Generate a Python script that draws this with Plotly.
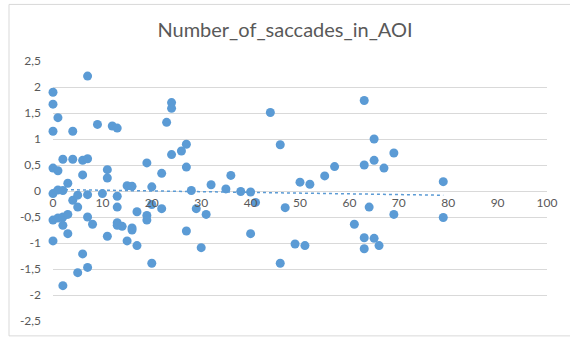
import numpy as np
import plotly.graph_objects as go

# Residual-style scatter: x = number of saccades in AOI, y = standardized value
x_vals = [0, 0, 0, 1, 0, 1, 0, 1, 2, 0, 1, 2, 2, 3, 3, 0, 2, 2, 3, 4,
          4, 4, 5, 5, 5, 6, 6, 6, 7, 7, 7, 7, 7, 8, 9, 10, 11, 11, 11, 12,
          13, 13, 13, 13, 13, 14, 15, 15, 16, 16, 16, 17, 17, 19, 19, 19, 20, 20, 20, 22,
          22, 23, 24, 24, 24, 26, 27, 27, 27, 28, 29, 30, 31, 32, 35, 36, 38, 40, 40, 41,
          44, 46, 46, 47, 49, 50, 51, 52, 55, 57, 61, 63, 63, 63, 63, 64, 65, 65, 65, 66,
          67, 69, 69, 79, 79]
y_vals = [1.90, 1.67, 1.15, 1.41, 0.44, 0.39, -0.05, 0.02, 0.01, -0.56, -0.52, -0.50, -0.66, -0.45, -0.82, -0.96, -1.82, 0.61, 0.15, 1.15,
          0.61, -0.18, -0.08, -0.31, -1.57, 0.59, 0.31, -1.21, 2.21, 0.62, -0.07, -0.50, -1.47, -0.64, 1.28, -0.05, 0.41, 0.25, -0.87, 1.25,
          1.21, -0.10, -0.31, -0.61, -0.66, -0.68, 0.10, -0.96, 0.09, -0.71, -0.75, -0.40, -1.05, 0.54, -0.47, -0.56, 0.08, -0.26, -1.39, 0.34,
          -0.34, 1.32, 1.70, 1.59, 0.70, 0.77, 0.90, 0.46, -0.77, 0.01, -0.34, -1.09, -0.45, 0.12, 0.04, 0.30, -0.01, -0.02, -0.82, -0.22,
          1.51, 0.89, -1.39, -0.32, -1.02, 0.17, -1.05, 0.13, 0.29, 0.47, -0.64, 1.74, 0.50, -0.90, -1.11, -0.31, 1.00, 0.59, -0.91, -1.05,
          0.44, 0.73, -0.45, 0.18, -0.51]

y_tickvals = [-2.5, -2, -1.5, -1, -0.5, 0, 0.5, 1, 1.5, 2, 2.5]
y_ticktext = ["-2,5", "-2", "-1,5", "-1", "-0,5", "0", "0,5", "1", "1,5", "2", "2,5"]
x_tickvals = [0, 10, 20, 30, 40, 50, 60, 70, 80, 90, 100]
x_ticktext = ["0", "10", "20", "30", "40", "50", "60", "70", "80", "90", "100"]

title_text = "Number_of_saccades_in_AOI"

BLUE = "#5B9BD5"
GRID = "#D9D9D9"
TEXT = "#595959"
FONT = "Lato"

# Linear trendline over the observed x span
slope, intercept = np.polyfit(x_vals, y_vals, 1)
trend_x = np.array([min(x_vals), max(x_vals)])
trend_y = slope * trend_x + intercept

fig = go.Figure()
fig.add_trace(go.Scatter(
    x=x_vals, y=y_vals, mode="markers",
    marker=dict(color=BLUE, size=9, line=dict(width=0)),
    cliponaxis=False, showlegend=False,
))
fig.add_trace(go.Scatter(
    x=trend_x, y=trend_y, mode="lines",
    line=dict(color=BLUE, width=1.5, dash="dot"),
    showlegend=False,
))

W, H = 570, 340
ML, MR, MT, MB = 53, 23, 61, 17
pw, ph = W - ML - MR, H - MT - MB

def px_x(p):
    return (p - ML) / pw

def px_y(p):
    return (H - MB - p) / ph

fig.update_layout(
    width=W, height=H,
    margin=dict(l=ML, r=MR, t=MT, b=MB),
    paper_bgcolor="white", plot_bgcolor="white",
    font=dict(family=FONT, color=TEXT, size=12),
    title=dict(text=title_text, x=0.5, xanchor="center", y=1 - 30 / H, yanchor="middle",
               font=dict(family=FONT, size=20, color=TEXT)),
    xaxis=dict(range=[0, 100], tickvals=x_tickvals, ticktext=x_ticktext,
               showgrid=False, zeroline=False, showline=False, ticks="",
               anchor="free", position=0.5, ticklabelstandoff=3,
               tickfont=dict(family=FONT, size=12, color=TEXT)),
    yaxis=dict(range=[-2.5, 2.5], domain=[0, 1], tickvals=y_tickvals, ticktext=y_ticktext,
               showgrid=True, gridcolor=GRID, gridwidth=1, zeroline=False,
               showline=False, ticks="", ticklabelstandoff=11,
               tickfont=dict(family=FONT, size=12, color=TEXT)),
    shapes=[dict(type="rect", xref="paper", yref="paper",
                 x0=px_x(9), x1=px_x(580), y0=px_y(338), y1=px_y(4),
                 line=dict(color=GRID, width=1), fillcolor="rgba(0,0,0,0)", layer="below")],
)

fig.write_html("out.html")
